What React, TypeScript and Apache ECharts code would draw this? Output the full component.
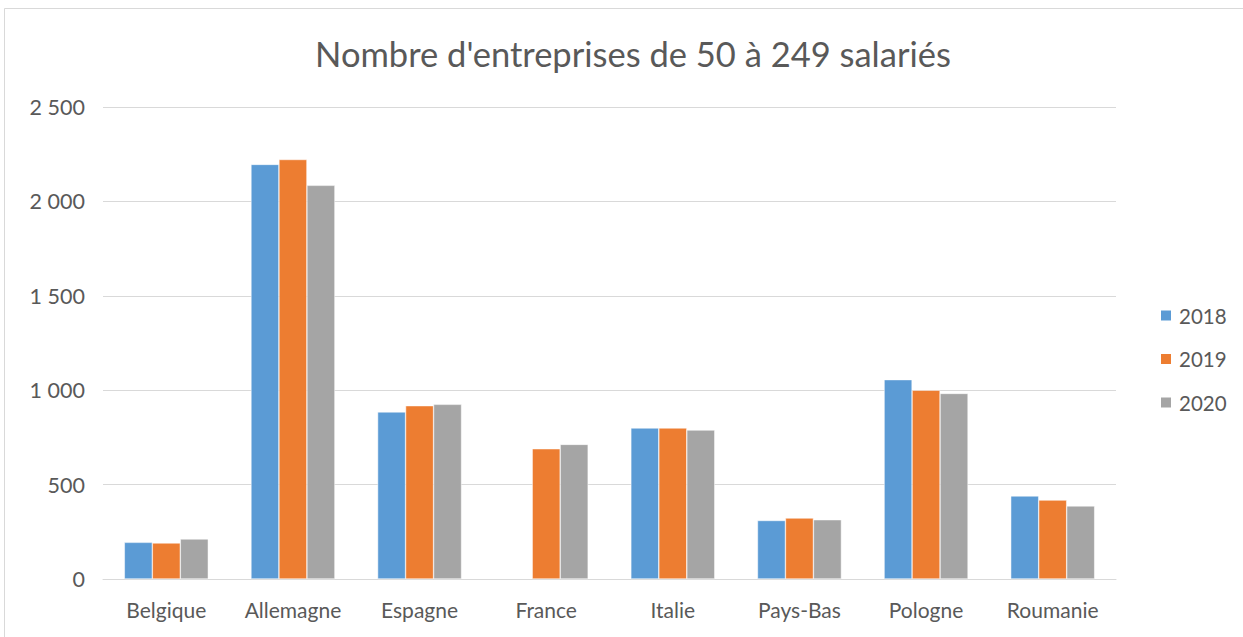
import React, { useEffect, useRef } from "react";
import * as echarts from "echarts";

const categories = ["Belgique", "Allemagne", "Espagne", "France", "Italie", "Pays-Bas", "Pologne", "Roumanie"];
const seriesNames = ["2018", "2019", "2020"];
const values2018: (number | null)[] = [194, 2196, 885, null, 800, 310, 1056, 440];
const values2019: (number | null)[] = [191, 2222, 918, 690, 800, 323, 1000, 418];
const values2020: (number | null)[] = [212, 2085, 925, 713, 789, 314, 983, 387];
const colors = ["#5b9bd5", "#ed7d31", "#a5a5a5"];
const title = "Nombre d'entreprises de 50 à 249 salariés";

const fmt = (v: number) => {
  if (v >= 1000) {
    const t = Math.floor(v / 1000);
    const r = String(v % 1000).padStart(3, "0");
    return `${t} ${r}`;
  }
  return String(v);
};

export default function App() {
  const ref = useRef<HTMLDivElement>(null);
  useEffect(() => {
    document.body.style.margin = "0";
    const chart = echarts.init(ref.current!, null, { renderer: "svg" });
    const font = "Lato, 'Open Sans', sans-serif";
    const data = [values2018, values2019, values2020];
    chart.setOption({
      animation: false,
      backgroundColor: "#ffffff",
      textStyle: { fontFamily: font },
      title: {
        text: title,
        left: 628,
        textAlign: "center",
        top: 31,
        textStyle: { fontFamily: font, fontSize: 34.5, fontWeight: "normal", color: "#595959" },
      },
      graphic: [
        {
          type: "rect",
          shape: { x: 4.5, y: 8.5, width: 1260, height: 660 },
          style: { fill: "none", stroke: "#d9d9d9", lineWidth: 1 },
          silent: true,
        },
      ],
      legend: {
        orient: "vertical",
        left: 1154,
        top: 300,
        itemWidth: 12,
        itemHeight: 12,
        itemGap: 22.5,
        icon: "rect",
        data: seriesNames,
        textStyle: { fontFamily: font, fontSize: 20.5, color: "#595959", padding: [0, 0, 0, 2] },
      },
      grid: { left: 103, right: 127, top: 107, bottom: 58 },
      xAxis: {
        type: "category",
        data: categories,
        axisLine: { lineStyle: { color: "#d9d9d9", width: 1 } },
        axisTick: { show: false },
        axisLabel: { fontFamily: font, fontSize: 21, color: "#595959", margin: 20, interval: 0, hideOverlap: false },
      },
      yAxis: {
        type: "value",
        min: 0,
        max: 2500,
        interval: 500,
        axisLine: { show: false },
        axisTick: { show: false },
        splitLine: { lineStyle: { color: "#d9d9d9", width: 1 } },
        axisLabel: { fontFamily: font, fontSize: 21.5, color: "#595959", margin: 18, formatter: (v: number) => fmt(v) },
      },
      series: seriesNames.map((name, i) => ({
        name,
        type: "bar",
        data: data[i],
        barGap: "0%",
        barCategoryGap: "33.7%",
        itemStyle: { color: colors[i], borderColor: "#ffffff", borderWidth: 0.5 },
      })),
    });
    return () => chart.dispose();
  }, []);
  return <div ref={ref} style={{ width: 1243, height: 637 }} />;
}
